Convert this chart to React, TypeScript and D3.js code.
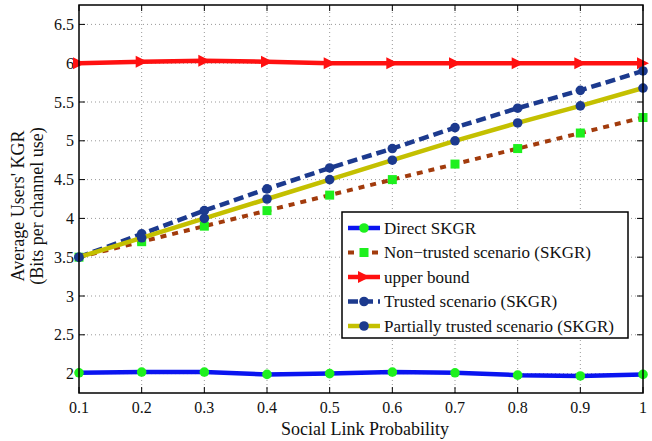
import React from 'react';
import * as d3 from 'd3';

const probs = [0.1, 0.2, 0.3, 0.4, 0.5, 0.6, 0.7, 0.8, 0.9, 1.0];
const direct = [2.01, 2.02, 2.02, 1.99, 2.0, 2.02, 2.01, 1.98, 1.97, 1.99];
const nonTrusted = [3.5, 3.7, 3.9, 4.1, 4.3, 4.5, 4.7, 4.9, 5.1, 5.3];
const upperBound = [6.0, 6.02, 6.03, 6.02, 6.0, 6.0, 6.0, 6.0, 6.0, 6.0];
const trusted = [3.5, 3.8, 4.1, 4.38, 4.65, 4.9, 5.17, 5.42, 5.65, 5.9];
const partial = [3.5, 3.75, 4.0, 4.25, 4.5, 4.75, 5.0, 5.23, 5.45, 5.68];

const xTicks = [0.1, 0.2, 0.3, 0.4, 0.5, 0.6, 0.7, 0.8, 0.9, 1];
const yTicks = [2, 2.5, 3, 3.5, 4, 4.5, 5, 5.5, 6, 6.5];

const legendLabels = [
  'Direct SKGR',
  'Non\u2212trusted scenario (SKGR)',
  'upper bound',
  'Trusted scenario (SKGR)',
  'Partially trusted scenario (SKGR)',
];

const W = 652;
const H = 441;
const FONT = 'Liberation Serif, DejaVu Serif, serif';

const BLUE = '#0a14f0';
const GREEN = '#1ef01e';
const BROWN = '#a23b0c';
const RED = '#ff1010';
const NAVY = '#1c3a8e';
const OLIVE = '#c4c000';

const x = d3.scaleLinear().domain([0.1, 1]).range([79, 643]);
const y = d3.scaleLinear().domain([1.75, 6.75]).range([393, 5]);

const line = d3
  .line<number>()
  .x((_, i) => x(probs[i]))
  .y((d) => y(d));

const tri = (cx: number, cy: number, s = 6) =>
  `M${cx - s},${cy - s}L${cx + s},${cy}L${cx - s},${cy + s}Z`;

type Marker = 'circle' | 'square' | 'tri';

const drawMarker = (kind: Marker, cx: number, cy: number, fill: string, key: string) => {
  if (kind === 'circle') return <circle key={key} cx={cx} cy={cy} r={4.8} fill={fill} />;
  if (kind === 'square')
    return <rect key={key} x={cx - 4.5} y={cy - 4.5} width={9} height={9} fill={fill} />;
  return <path key={key} d={tri(cx, cy)} fill={fill} />;
};

const series = [
  { values: direct, stroke: BLUE, dash: undefined, width: 4.5, marker: 'circle' as Marker, mfill: GREEN },
  { values: nonTrusted, stroke: BROWN, dash: '6 6', width: 4, marker: 'square' as Marker, mfill: GREEN },
  { values: upperBound, stroke: RED, dash: undefined, width: 4.5, marker: 'tri' as Marker, mfill: RED },
  { values: trusted, stroke: NAVY, dash: '10 5', width: 4.5, marker: 'circle' as Marker, mfill: NAVY },
  { values: partial, stroke: OLIVE, dash: undefined, width: 4.5, marker: 'circle' as Marker, mfill: NAVY },
];

const App = () => {
  const [x0, x1] = x.range();
  const [yb, yt] = y.range();

  const legX = 342;
  const legY = 212;
  const legW = 286;
  const legH = 126;
  const rowH = 24.5;

  return (
    <svg
      width={W}
      height={H}
      fontFamily={FONT}
      fill="#111"
      style={{ position: 'absolute', left: 0, top: 0, background: '#fff', fontFamily: FONT }}
    >
      <rect x={0} y={0} width={W} height={H} fill="#fff" />

      {/* grid */}
      {xTicks.slice(1, -1).map((t) => (
        <line key={'gx' + t} x1={x(t)} x2={x(t)} y1={yb} y2={yt} stroke="#999" strokeWidth={1} strokeDasharray="1 3" />
      ))}
      {yTicks.map((t) => (
        <line key={'gy' + t} x1={x0} x2={x1} y1={y(t)} y2={y(t)} stroke="#999" strokeWidth={1} strokeDasharray="1 3" />
      ))}

      {/* ticks */}
      {xTicks.map((t) => (
        <g key={'tx' + t}>
          <line x1={x(t)} x2={x(t)} y1={yb} y2={yb - 6} stroke="#000" strokeWidth={1} />
          <line x1={x(t)} x2={x(t)} y1={yt} y2={yt + 6} stroke="#000" strokeWidth={1} />
          <text x={x(t)} y={yb + 20} textAnchor="middle" fontSize={16}>
            {d3.format('')(t)}
          </text>
        </g>
      ))}
      {yTicks.map((t) => (
        <g key={'ty' + t}>
          <line x1={x0} x2={x0 + 6} y1={y(t)} y2={y(t)} stroke="#000" strokeWidth={1} />
          <line x1={x1} x2={x1 - 6} y1={y(t)} y2={y(t)} stroke="#000" strokeWidth={1} />
          <text x={x0 - 5} y={y(t)} dy="0.35em" textAnchor="end" fontSize={16}>
            {d3.format('')(t)}
          </text>
        </g>
      ))}

      {/* series */}
      {series.map((s, si) => (
        <g key={'s' + si}>
          <path d={line(s.values) || ''} fill="none" stroke={s.stroke} strokeWidth={s.width} strokeDasharray={s.dash} />
          {s.values.map((v, i) => drawMarker(s.marker, x(probs[i]), y(v), s.mfill, 'm' + si + '-' + i))}
        </g>
      ))}

      {/* axes box */}
      <rect x={x0} y={yt} width={x1 - x0} height={yb - yt} fill="none" stroke="#000" strokeWidth={1.5} />

      {/* labels */}
      <text x={(x0 + x1) / 2 + 4} y={435} textAnchor="middle" fontSize={18}>
        Social Link Probability
      </text>
      <g transform={`translate(0,${(yt + yb) / 2 + 7}) rotate(-90)`}>
        <text x={0} y={24} textAnchor="middle" fontSize={18}>
          Average Users' KGR
        </text>
        <text x={0} y={43} textAnchor="middle" fontSize={18}>
          (Bits per channel use)
        </text>
      </g>

      {/* legend */}
      <rect x={legX} y={legY} width={legW} height={legH} fill="#fff" stroke="#000" strokeWidth={1.5} />
      {series.map((s, i) => {
        const cy = legY + 16 + i * rowH;
        return (
          <g key={'lg' + i}>
            <line x1={legX + 6} x2={legX + 38} y1={cy} y2={cy} stroke={s.stroke} strokeWidth={s.width} strokeDasharray={s.dash} />
            {drawMarker(s.marker, legX + 22, cy, s.mfill, 'lm' + i)}
            <text x={legX + 42} y={cy} dy="0.35em" fontSize={17}>
              {legendLabels[i]}
            </text>
          </g>
        );
      })}
    </svg>
  );
};

export default App;
